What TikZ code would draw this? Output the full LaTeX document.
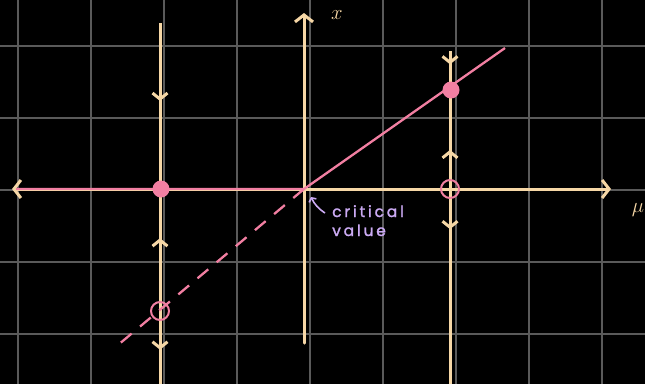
\documentclass[tikz,border=0pt]{standalone}
\usepackage{fontspec}
\newfontfamily\handfont[LetterSpace=18,FakeBold=1.5]{Poppins}
\definecolor{axiscream}{HTML}{F6D7A6}
\definecolor{branchpink}{HTML}{F27FA2}
\definecolor{notelilac}{HTML}{CBAAF3}
\definecolor{gridgray}{HTML}{5A5A5A}
\usetikzlibrary{arrows.meta,decorations.markings}

\begin{document}
\begin{tikzpicture}[x=1pt,y=-1pt,
    chev/.tip={Straight Barb[length=6pt,width=15pt]},
    ends/.tip={Straight Barb[length=7pt,width=18pt]},
    gridline/.style={draw=gridgray, line width=1.3pt},
    axis/.style={draw=axiscream, line width=3pt, line cap=round},
    flow/.style={draw=axiscream, line width=3pt, postaction={decorate}},
    branch/.style={draw=branchpink, line width=2.3pt},
    stable/.style={circle, fill=branchpink, inner sep=0pt, minimum size=17pt},
    unstable/.style={circle, draw=branchpink, line width=2pt, inner sep=0pt, minimum size=18pt},
    pointer/.style={draw=notelilac, line width=1.6pt, -{Straight Barb[length=3pt,width=8pt]}}
  ]
  \fill[black] (0,0) rectangle (645,384);
  \useasboundingbox (0,0) rectangle (645,384);

  % grid
  \foreach \gx in {18,91,...,602} { \draw[gridline] (\gx,0) -- (\gx,384); }
  \foreach \gy in {46,118,...,334} { \draw[gridline] (0,\gy) -- (645,\gy); }

  % axes
  \coordinate (west) at (12,189);
  \coordinate (east) at (611,189);
  \coordinate (north) at (304,13);
  \coordinate (south) at (304,343);
  \draw[axis, ends-ends] (west) -- (east);
  \draw[axis, -ends] (south) -- (north);
  \node[text=axiscream, font=\fontsize{21}{21}\selectfont] (xlab) at (337,15) {$x$};
  \node[text=axiscream, font=\fontsize{22}{22}\selectfont] (mulab) at (638,210) {$\mu$};

  % phase lines
  \coordinate (ltop) at (160,23);
  \coordinate (lbot) at (160,384);
  \coordinate (rtop) at (450,51);
  \coordinate (rbot) at (450,384);
  \draw[flow, decoration={markings,
      mark=at position 0.216 with {\arrow{chev}},
      mark=at position 0.596 with {\arrowreversed{chev}},
      mark=at position 0.905 with {\arrow{chev}}}] (ltop) -- (lbot);
  \draw[flow, decoration={markings,
      mark=at position 0.04 with {\arrow{chev}},
      mark=at position 0.297 with {\arrowreversed{chev}},
      mark=at position 0.535 with {\arrow{chev}}}] (rtop) -- (rbot);

  % branches
  \coordinate (crit) at (304,189);
  \coordinate (tail) at (16,189);
  \coordinate (upper) at (505,48);
  \coordinate (lower) at (118,345);
  \draw[branch] (tail) -- (crit) -- (upper);
  \draw[branch, dash pattern=on 14pt off 11pt] (crit) -- (lower);

  \node[stable] (s1) at (161,189) {};
  \node[stable] (s2) at (451,90) {};
  \node[unstable] (u1) at (160,311) {};
  \node[unstable] (u2) at (450,189) {};

  % note
  \node[text=notelilac, font=\handfont\fontsize{15.5}{19}\selectfont, align=left,
    anchor=north west, inner sep=0pt] (note) at (332,205) {critical\\value};
  \draw[pointer] ([shift={(-7,8)}]note.north west) to[bend left=15] ([shift={(7,8)}]crit);
\end{tikzpicture}
\end{document}
